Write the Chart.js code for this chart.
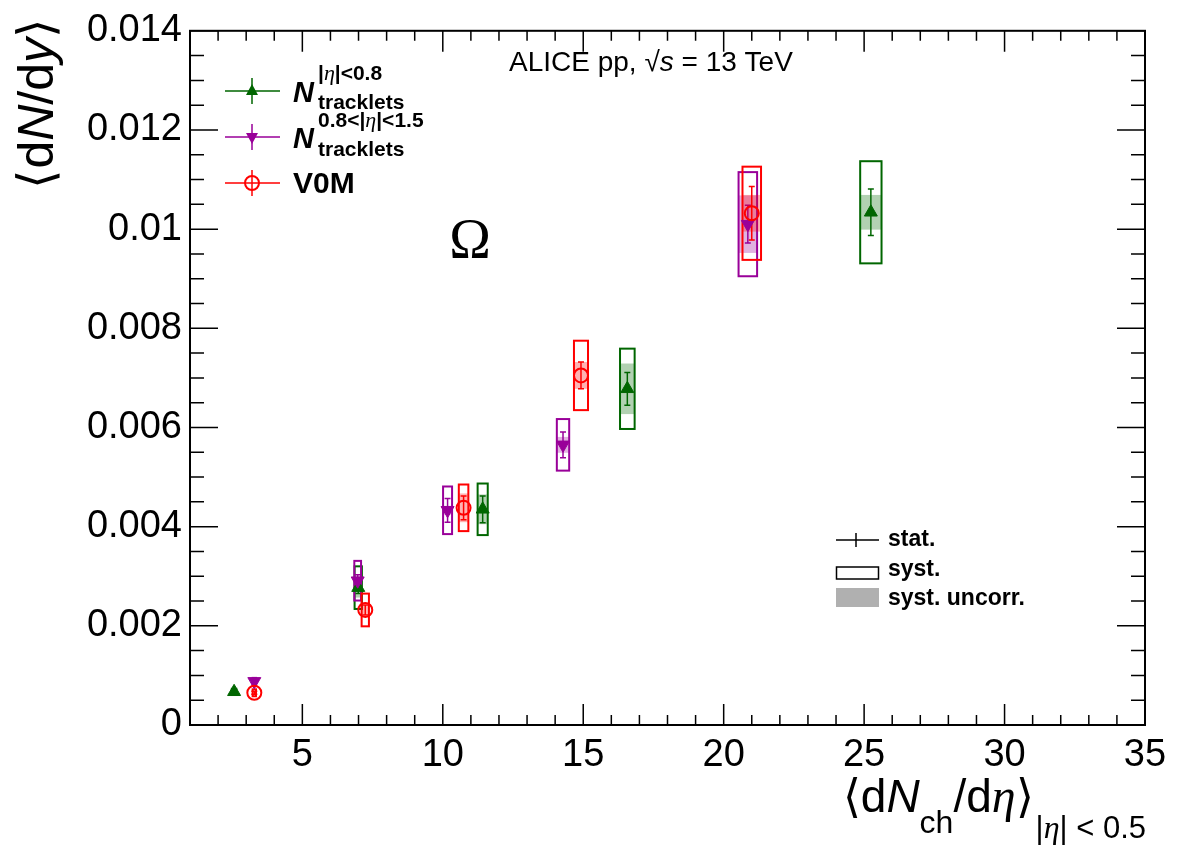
<!DOCTYPE html>
<html>
<head>
<meta charset="utf-8">
<script src="https://cdn.jsdelivr.net/npm/chart.js@4.4.1/dist/chart.umd.min.js"></script>
<style>
html,body{margin:0;padding:0;background:#fff;}
canvas{display:block;}
</style>
</head>
<body>
<canvas id="omegaChart" width="1182" height="863"></canvas>
<script>
// Omega yields vs multiplicity
// N tracklets |eta|<0.8
const trkX      = [2.57, 6.99, 11.42, 16.57, 25.24];
const trkY      = [0.00067, 0.00277, 0.00435, 0.00678, 0.01034];
const trkStat   = [0.00003, 0.00012, 0.00027, 0.00033, 0.00047];
const trkSyst   = [0.00006, 0.00043, 0.00052, 0.00081, 0.00103];
const trkUncorr = [0.00004, 0.00020, 0.00030, 0.00051, 0.00035];
const trkXErr   = [0.08, 0.13, 0.18, 0.26, 0.38];
// N tracklets 0.8<|eta|<1.5
const fwdX      = [3.29, 6.97, 10.17, 14.28, 20.86];
const fwdY      = [0.00088, 0.00291, 0.00433, 0.00565, 0.0101];
const fwdStat   = [0.00003, 0.00012, 0.00024, 0.00026, 0.00038];
const fwdSyst   = [0.00007, 0.00040, 0.00048, 0.00052, 0.00105];
const fwdUncorr = [0.00004, 0.00010, 0.00009, 0.00016, 0.00058];
const fwdXErr   = [0.06, 0.12, 0.16, 0.22, 0.33];
// V0M
const v0mX      = [3.29, 7.24, 10.74, 14.92, 21.0];
const v0mY      = [0.00065, 0.00232, 0.00438, 0.00705, 0.01032];
const v0mStat   = [0.00003, 0.00010, 0.00024, 0.00027, 0.00054];
const v0mSyst   = [0.00007, 0.00033, 0.00047, 0.00070, 0.00094];
const v0mUncorr = [0.00004, 0.00010, 0.00029, 0.00027, 0.00037];
const v0mXErr   = [0.06, 0.13, 0.17, 0.25, 0.33];

const xTicks = [5, 10, 15, 20, 25, 30, 35];
const yTicks = [0, 0.002, 0.004, 0.006, 0.008, 0.01, 0.012, 0.014];

const GREEN = '#006600', PURPLE = '#990099', RED = '#ff0000';

const series = [
  {x: trkX, y: trkY, stat: trkStat, syst: trkSyst, unc: trkUncorr, xe: trkXErr, col: GREEN, shade: 'rgba(0,102,0,0.3)'},
  {x: fwdX, y: fwdY, stat: fwdStat, syst: fwdSyst, unc: fwdUncorr, xe: fwdXErr, col: PURPLE, shade: 'rgba(153,0,153,0.3)'},
  {x: v0mX, y: v0mY, stat: v0mStat, syst: v0mSyst, unc: v0mUncorr, xe: v0mXErr, col: RED, shade: 'rgba(255,0,0,0.3)'}
];

function pts(xa, ya) { return xa.map((v, i) => ({x: v, y: ya[i]})); }

// draw a row of text pieces with different fonts
function runs(ctx, x, y, parts, align) {
  let w = 0;
  parts.forEach(p => { ctx.font = p.f; w += ctx.measureText(p.t).width + (p.gap || 0); });
  let cx = align === 'right' ? x - w : x;
  parts.forEach(p => {
    ctx.font = p.f;
    ctx.fillText(p.t, cx, y + (p.dy || 0));
    cx += ctx.measureText(p.t).width + (p.gap || 0);
  });
}

const boxes = {
  id: 'boxes',
  beforeDatasetsDraw(chart) {
    const ctx = chart.ctx, xs = chart.scales.x, ys = chart.scales.y, a = chart.chartArea;
    ctx.save();
    ctx.beginPath(); ctx.rect(a.left, a.top, a.right - a.left, a.bottom - a.top); ctx.clip();
    series.forEach(s => {
      s.x.forEach((xv, i) => {
        const xl = xs.getPixelForValue(xv - s.xe[i]), xr = xs.getPixelForValue(xv + s.xe[i]);
        const xc = xs.getPixelForValue(xv);
        const ut = ys.getPixelForValue(s.y[i] + s.unc[i]), ub = ys.getPixelForValue(s.y[i] - s.unc[i]);
        ctx.fillStyle = s.shade;
        ctx.fillRect(xl, ut, xr - xl, ub - ut);
        const st = ys.getPixelForValue(s.y[i] + s.syst[i]), sb = ys.getPixelForValue(s.y[i] - s.syst[i]);
        ctx.strokeStyle = s.col; ctx.lineWidth = 2;
        ctx.strokeRect(xl, st, xr - xl, sb - st);
        const et = ys.getPixelForValue(s.y[i] + s.stat[i]), eb = ys.getPixelForValue(s.y[i] - s.stat[i]);
        ctx.lineWidth = 1.5;
        ctx.beginPath();
        ctx.moveTo(xc, et); ctx.lineTo(xc, eb);
        ctx.moveTo(xc - 3, et); ctx.lineTo(xc + 3, et);
        ctx.moveTo(xc - 3, eb); ctx.lineTo(xc + 3, eb);
        ctx.stroke();
      });
    });
    ctx.restore();
  },
  afterDraw(chart) {
    const ctx = chart.ctx, xs = chart.scales.x, ys = chart.scales.y, a = chart.chartArea;
    ctx.save();
    ctx.strokeStyle = '#000'; ctx.lineWidth = 2;
    ctx.strokeRect(a.left, a.top, a.right - a.left, a.bottom - a.top);
    ctx.lineWidth = 1.5;
    ctx.beginPath();
    for (let v = 2; v <= 35; v++) {
      const px = xs.getPixelForValue(v), L = v % 5 === 0 ? 21 : 10;
      ctx.moveTo(px, a.bottom); ctx.lineTo(px, a.bottom - L);
      ctx.moveTo(px, a.top); ctx.lineTo(px, a.top + L);
    }
    for (let k = 0; k <= 28; k++) {
      const py = ys.getPixelForValue(k * 0.0005), L = k % 4 === 0 ? 28 : 14;
      ctx.moveTo(a.left, py); ctx.lineTo(a.left + L, py);
      ctx.moveTo(a.right, py); ctx.lineTo(a.right - L, py);
    }
    ctx.stroke();

    ctx.fillStyle = '#000';
    ctx.textBaseline = 'alphabetic';
    // axis titles
    const S = '"Liberation Sans", Arial, sans-serif', SER = '"Liberation Serif", serif';
    ctx.save();
    ctx.translate(53, 18);
    ctx.rotate(-Math.PI / 2);
    runs(ctx, 0, 0, [
      {t: '\u27e8d', f: '50px ' + S}, {t: 'N', f: 'italic 50px ' + S},
      {t: '/d', f: '50px ' + S}, {t: 'y', f: 'italic 50px ' + S}, {t: '\u27e9', f: '50px ' + S}
    ], 'right');
    ctx.restore();
    runs(ctx, 1146, 812, [
      {t: '\u27e8d', f: '46px ' + S}, {t: 'N', f: 'italic 46px ' + S},
      {t: 'ch', f: '32px ' + S, dy: 21}, {t: '/d', f: '46px ' + S},
      {t: '\u03b7', f: 'italic 48px ' + SER}, {t: '\u27e9', f: '46px ' + S, gap: 2},
      {t: '|', f: '31px ' + S, dy: 26}, {t: '\u03b7', f: 'italic 32px ' + SER, dy: 26},
      {t: '| < 0.5', f: '31px ' + S, dy: 26}
    ], 'right');

    // header and particle
    ctx.textAlign = 'left';
    runs(ctx, 509, 71, [
      {t: 'ALICE pp, \u221a', f: '28px ' + S}, {t: 's', f: 'italic 28px ' + S},
      {t: ' = 13 TeV', f: '28px ' + S}
    ]);
    ctx.font = '56px ' + SER;
    ctx.textAlign = 'center';
    ctx.fillText('\u03a9', 470, 258);
    ctx.textAlign = 'left';

    // legend top-left
    const rows = [{y: 91, col: GREEN, m: 'up'}, {y: 137, col: PURPLE, m: 'down'}, {y: 183, col: RED, m: 'circ'}];
    rows.forEach(r => {
      ctx.strokeStyle = r.col; ctx.fillStyle = r.col; ctx.lineWidth = 1.5;
      ctx.beginPath();
      ctx.moveTo(225, r.y); ctx.lineTo(280, r.y);
      ctx.moveTo(252, r.y - 13); ctx.lineTo(252, r.y + 13);
      ctx.stroke();
      ctx.beginPath();
      if (r.m === 'up') { ctx.moveTo(252, r.y - 7); ctx.lineTo(258, r.y + 4); ctx.lineTo(246, r.y + 4); ctx.closePath(); ctx.fill(); }
      else if (r.m === 'down') { ctx.moveTo(252, r.y + 7); ctx.lineTo(258, r.y - 4); ctx.lineTo(246, r.y - 4); ctx.closePath(); ctx.fill(); }
      else { ctx.lineWidth = 2; ctx.arc(252, r.y, 7, 0, Math.PI * 2); ctx.stroke(); }
    });
    ctx.fillStyle = '#000';
    const B = 'bold 21px ' + S, ET = 'italic 22px ' + SER;
    ctx.font = 'bold italic 29px ' + S; ctx.fillText('N', 293, 102);
    runs(ctx, 318, 80, [{t: '|', f: B}, {t: '\u03b7', f: ET}, {t: '|<0.8', f: B}]);
    ctx.font = 'bold 21px ' + S; ctx.fillText('tracklets', 318, 109);
    ctx.font = 'bold italic 29px ' + S; ctx.fillText('N', 293, 148);
    runs(ctx, 318, 127, [{t: '0.8<|', f: B}, {t: '\u03b7', f: ET}, {t: '|<1.5', f: B}]);
    ctx.font = 'bold 21px ' + S; ctx.fillText('tracklets', 318, 156);
    ctx.font = 'bold 30px ' + S; ctx.fillText('V0M', 293, 193);

    // legend bottom-right
    ctx.strokeStyle = '#000'; ctx.lineWidth = 1.5;
    ctx.beginPath();
    ctx.moveTo(836, 540); ctx.lineTo(879, 540);
    ctx.moveTo(856, 533); ctx.lineTo(856, 547);
    ctx.stroke();
    ctx.strokeRect(836.5, 567, 42, 12);
    ctx.fillStyle = '#b0b0b0';
    ctx.fillRect(836, 588, 43, 19);
    ctx.fillStyle = '#000';
    ctx.font = 'bold 23px ' + S;
    ctx.fillText('stat.', 888, 546);
    ctx.fillText('syst.', 888, 576);
    ctx.fillText('syst. uncorr.', 888, 605);
    ctx.restore();
  }
};

const ctx = document.getElementById('omegaChart').getContext('2d');
const omegaChart = new Chart(ctx, {
  type: 'scatter',
  data: {
    datasets: [
      {label: 'trk08', data: pts(trkX, trkY), pointStyle: 'triangle', pointRadius: 7.5,
       backgroundColor: GREEN, borderColor: GREEN, borderWidth: 1, order: 3},
      {label: 'trk0815', data: pts(fwdX, fwdY), pointStyle: 'triangle', rotation: 180, pointRadius: 7.5,
       backgroundColor: PURPLE, borderColor: PURPLE, borderWidth: 1, order: 2},
      {label: 'V0M', data: pts(v0mX, v0mY), pointStyle: 'circle', pointRadius: 7,
       backgroundColor: 'rgba(0,0,0,0)', borderColor: RED, borderWidth: 2, order: 1}
    ]
  },
  options: {
    responsive: false,
    animation: false,
    layout: {padding: {top: 24, right: 37, left: 0, bottom: 0}},
    plugins: {legend: {display: false}, tooltip: {enabled: false}},
    scales: {
      x: {
        type: 'linear', min: 1, max: 35,
        afterBuildTicks: s => { s.ticks = xTicks.map(v => ({value: v})); },
        afterFit: s => { s.height = 138; },
        grid: {display: false, drawTicks: false},
        border: {display: false},
        ticks: {color: '#000', padding: 8, maxRotation: 0, font: {family: 'Liberation Sans', size: 38},
                callback: v => String(v)}
      },
      y: {
        type: 'linear', min: 0, max: 0.014,
        afterBuildTicks: s => { s.ticks = yTicks.map(v => ({value: v})); },
        afterFit: s => { s.width = 190; },
        grid: {display: false, drawTicks: false},
        border: {display: false},
        ticks: {color: '#000', padding: 8, font: {family: 'Liberation Sans', size: 38},
                callback: v => String(+v.toFixed(3))}
      }
    }
  },
  plugins: [boxes]
});
</script>
</body>
</html>
